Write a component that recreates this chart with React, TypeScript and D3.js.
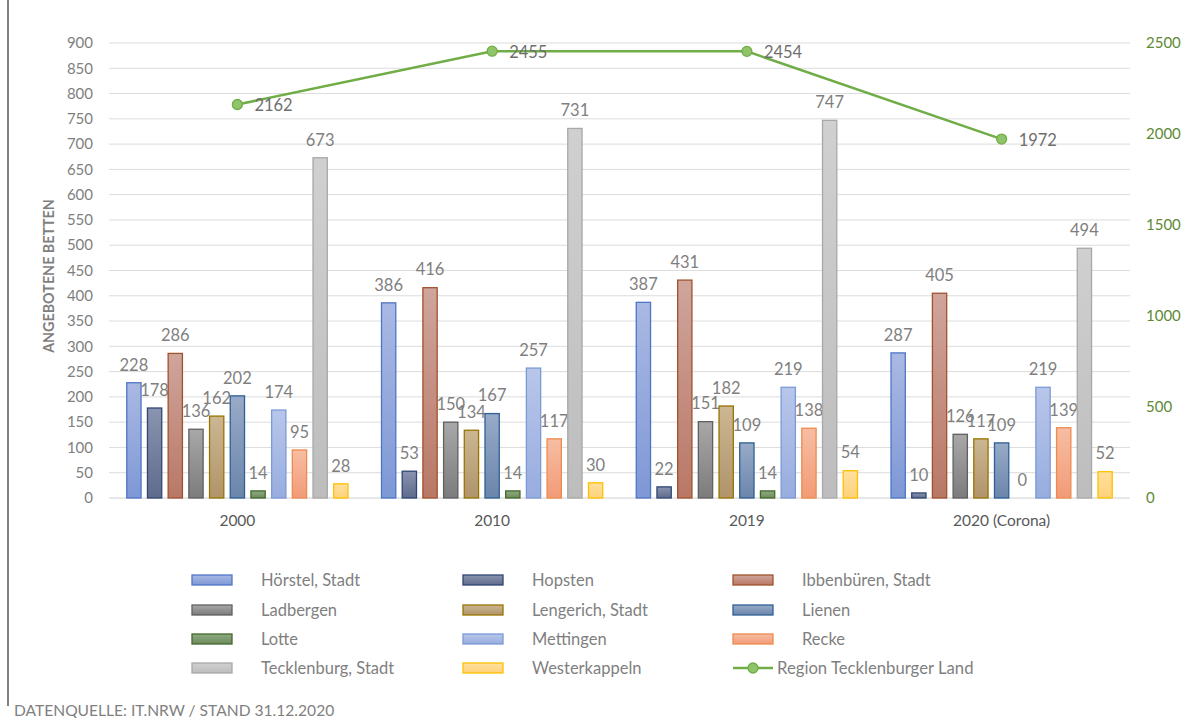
import React from "react";
import * as d3 from "d3";

const categories = ["2000", "2010", "2019", "2020 (Corona)"];
const seriesNames = [
  "Hörstel, Stadt",
  "Hopsten",
  "Ibbenbüren, Stadt",
  "Ladbergen",
  "Lengerich, Stadt",
  "Lienen",
  "Lotte",
  "Mettingen",
  "Recke",
  "Tecklenburg, Stadt",
  "Westerkappeln",
];
const hoerstel = [228, 386, 387, 287];
const hopsten = [178, 53, 22, 10];
const ibbenbueren = [286, 416, 431, 405];
const ladbergen = [136, 150, 151, 126];
const lengerich = [162, 134, 182, 117];
const lienen = [202, 167, 109, 109];
const lotte = [14, 14, 14, 0];
const mettingen = [174, 257, 219, 219];
const recke = [95, 117, 138, 139];
const tecklenburg = [673, 731, 747, 494];
const westerkappeln = [28, 30, 54, 52];
const regionName = "Region Tecklenburger Land";
const region = [2162, 2455, 2454, 1972];
const leftTicks = [0, 50, 100, 150, 200, 250, 300, 350, 400, 450, 500, 550, 600, 650, 700, 750, 800, 850, 900];
const rightTicks = [0, 500, 1000, 1500, 2000, 2500];

const seriesValues = [
  hoerstel, hopsten, ibbenbueren, ladbergen, lengerich, lienen,
  lotte, mettingen, recke, tecklenburg, westerkappeln,
];

// [top colour, bottom colour, stroke]
const seriesColors: [string, string, string][] = [
  ["#aab9e3", "#7e98d6", "#4f75c6"],
  ["#8a94b0", "#5f6b8c", "#2f4574"],
  ["#cfa59c", "#b97866", "#a0522d"],
  ["#a8a8a8", "#7c7c7c", "#606060"],
  ["#cbb793", "#b0946a", "#997300"],
  ["#98abc8", "#6b85ab", "#2e6094"],
  ["#8faa82", "#6d8b5e", "#43682b"],
  ["#b8c6ea", "#98addf", "#7b9ad6"],
  ["#f7bda3", "#f29b77", "#ee8a4d"],
  ["#d0d0d0", "#bdbdbd", "#a8a8a8"],
  ["#ffe09e", "#ffd27a", "#ffc000"],
];

const FONT = "Lato, 'Open Sans', sans-serif";
const W = 1195;
const H = 718;

export default function App() {
  const x0 = d3.scaleBand<string>().domain(categories).range([110, 1129]).paddingInner(0).paddingOuter(0);
  const x1 = d3
    .scaleBand<string>()
    .domain(seriesNames)
    .range([0, x0.bandwidth()])
    .paddingInner(0.31)
    .paddingOuter(0.81);
  const yL = d3.scaleLinear().domain([0, 900]).range([498, 43]);
  const yR = d3.scaleLinear().domain([0, 2500]).range([498, 43]);

  const cxOf = (i: number) => (x0(categories[i]) as number) + x0.bandwidth() / 2;
  const line = d3
    .line<number>()
    .x((_, i) => cxOf(i))
    .y((d) => yR(d));

  const legendCols = [192, 463, 733];
  const legendRows = [580, 610, 639, 668];
  const legendItems = [...seriesNames, regionName];

  return (
    <svg
      width={W}
      height={H}
      style={{ position: "absolute", left: 0, top: 0, background: "#fff" }}
      fontFamily={FONT}
    >
      <defs>
        {seriesColors.map((c, i) => (
          <linearGradient key={i} id={`g${i}`} x1="0" y1="0" x2="0" y2="1">
            <stop offset="0%" stopColor={c[0]} />
            <stop offset="100%" stopColor={c[1]} />
          </linearGradient>
        ))}
      </defs>
      <rect x={0} y={0} width={W} height={H} fill="#fff" />
      <line x1={8} y1={0} x2={8} y2={706} stroke="#808080" strokeWidth={2} />

      {/* gridlines */}
      {leftTicks.map((t) => (
        <line key={t} x1={109} x2={1130} y1={yL(t)} y2={yL(t)} stroke={t === 0 ? "#d0d0d0" : "#dcdcdc"} strokeWidth={1} />
      ))}

      {/* left ticks */}
      {leftTicks.map((t) => (
        <text key={t} x={93} y={yL(t)} dy="0.35em" textAnchor="end" fontSize={15} fill="#7f7f7f">
          {t}
        </text>
      ))}
      {/* right ticks */}
      {rightTicks.map((t) => (
        <text key={t} x={1146} y={yR(t)} dy="0.35em" textAnchor="start" fontSize={15} fill="#5e8a36">
          {t}
        </text>
      ))}

      <text
        transform={`translate(54,${276}) rotate(-90)`}
        textAnchor="middle"
        fontSize={14.3}
        fontWeight="bold"
        fill="#7f7f7f"
      >
        ANGEBOTENE BETTEN
      </text>

      {/* bars */}
      {categories.map((cat, ci) => (
        <g key={cat} transform={`translate(${x0(cat)},0)`}>
          {seriesNames.map((s, si) => {
            const v = seriesValues[si][ci];
            const bx = x1(s) as number;
            const bw = x1.bandwidth();
            return (
              <g key={s}>
                {v > 0 && (
                  <rect
                    x={bx}
                    y={yL(v)}
                    width={bw}
                    height={yL(0) - yL(v)}
                    fill={`url(#g${si})`}
                    stroke={seriesColors[si][2]}
                    strokeWidth={1.3}
                  />
                )}
                <text x={bx + bw / 2} y={yL(v) - 18} dy="0.35em" textAnchor="middle" fontSize={16.5} fill="#7f7f7f">
                  {v}
                </text>
              </g>
            );
          })}
        </g>
      ))}

      {/* x labels */}
      {categories.map((cat, i) => (
        <text key={cat} x={cxOf(i)} y={521} dy="0.35em" textAnchor="middle" fontSize={15.5} fill="#595959">
          {cat}
        </text>
      ))}

      {/* line */}
      <path d={line(region) || ""} fill="none" stroke="#70ad47" strokeWidth={2.5} />
      {region.map((v, i) => (
        <g key={i}>
          <circle cx={cxOf(i)} cy={yR(v)} r={5} fill="#8fc46a" stroke="#70ad47" strokeWidth={1.3} />
          <text x={cxOf(i) + 17} y={yR(v) + 1} dy="0.35em" fontSize={16.5} fill="#6f6f6f">
            {v}
          </text>
        </g>
      ))}

      {/* legend */}
      {legendItems.map((name, i) => {
        const col = i % 3;
        const row = Math.floor(i / 3);
        const lx = legendCols[col];
        const ly = legendRows[row];
        if (i === seriesNames.length) {
          return (
            <g key={name}>
              <line x1={lx} x2={lx + 40} y1={ly} y2={ly} stroke="#70ad47" strokeWidth={2.5} />
              <circle cx={lx + 20} cy={ly} r={5} fill="#8fc46a" stroke="#70ad47" strokeWidth={1.3} />
              <text x={lx + 44} y={ly} dy="0.35em" fontSize={16.7} fill="#7f7f7f">
                {name}
              </text>
            </g>
          );
        }
        return (
          <g key={name}>
            <rect
              x={lx}
              y={ly - 5}
              width={40}
              height={10}
              fill={`url(#g${i})`}
              stroke={seriesColors[i][2]}
              strokeWidth={1.3}
            />
            <text x={lx + 69} y={ly} dy="0.35em" fontSize={16.5} fill="#7f7f7f">
              {name}
            </text>
          </g>
        );
      })}

      <text x={14} y={716} fontSize={15.6} fill="#7f7f7f">
        DATENQUELLE: IT.NRW / STAND 31.12.2020
      </text>
    </svg>
  );
}
